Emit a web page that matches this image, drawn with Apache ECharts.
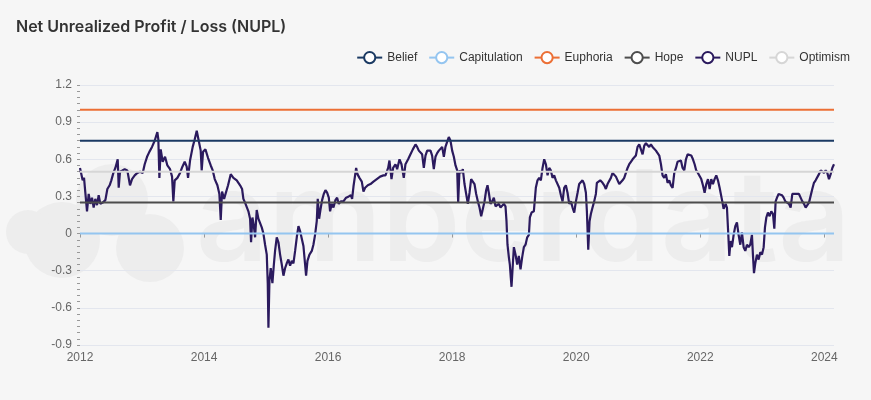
<!DOCTYPE html>
<html>
<head>
<meta charset="utf-8">
<script src="https://cdn.jsdelivr.net/npm/echarts@6/dist/echarts.min.js"></script>
<style>
  html, body { margin: 0; padding: 0; background: #f6f6f6; }
  #chart { width: 871px; height: 400px; }
</style>
</head>
<body>
<div id="chart"></div>
<script>
// NUPL readings, x in decimal years
const years = [
  2012.000, 2012.022, 2012.043, 2012.065, 2012.086, 2012.113, 2012.140, 2012.167, 2012.194, 2012.220,
  2012.247, 2012.274, 2012.301, 2012.328, 2012.366, 2012.409, 2012.441, 2012.478, 2012.505, 2012.538,
  2012.570, 2012.608, 2012.624, 2012.645, 2012.683, 2012.720, 2012.763, 2012.806, 2012.839, 2012.882,
  2012.925, 2012.968, 2013.011, 2013.043, 2013.081, 2013.118, 2013.161, 2013.204, 2013.247, 2013.263,
  2013.280, 2013.301, 2013.333, 2013.371, 2013.409, 2013.452, 2013.484, 2013.505, 2013.527, 2013.570,
  2013.613, 2013.651, 2013.688, 2013.720, 2013.742, 2013.774, 2013.817, 2013.849, 2013.882, 2013.914,
  2013.946, 2013.962, 2013.984, 2014.022, 2014.065, 2014.108, 2014.140, 2014.172, 2014.215, 2014.247,
  2014.269, 2014.290, 2014.323, 2014.355, 2014.387, 2014.430,
  2014.473, 2014.527, 2014.581, 2014.613, 2014.634, 2014.661, 2014.688, 2014.715, 2014.742, 2014.758,
  2014.780, 2014.801, 2014.823, 2014.849, 2014.876, 2014.903, 2014.930, 2014.957, 2014.984, 2015.011,
  2015.027, 2015.038, 2015.054, 2015.075, 2015.102, 2015.124, 2015.145, 2015.172, 2015.199, 2015.226,
  2015.253, 2015.280, 2015.306, 2015.333, 2015.360, 2015.387, 2015.414, 2015.441, 2015.468, 2015.495,
  2015.522, 2015.548, 2015.575, 2015.602, 2015.629, 2015.645, 2015.667, 2015.699, 2015.737, 2015.763,
  2015.790, 2015.817, 2015.833, 2015.855, 2015.876, 2015.903, 2015.930, 2015.957, 2015.984, 2016.011,
  2016.032, 2016.059, 2016.086, 2016.118, 2016.145, 2016.172, 2016.204, 2016.247, 2016.290, 2016.333,
  2016.366, 2016.387, 2016.409, 2016.435, 2016.452, 2016.473, 2016.505, 2016.543, 2016.570, 2016.597,
  2016.640, 2016.683, 2016.731, 2016.785, 2016.839, 2016.892,
  2016.925, 2016.968, 2016.989, 2017.022, 2017.048, 2017.086, 2017.113, 2017.151, 2017.183, 2017.220,
  2017.247, 2017.290, 2017.328, 2017.366, 2017.409, 2017.435, 2017.462, 2017.489, 2017.516, 2017.543,
  2017.570, 2017.597, 2017.624, 2017.651, 2017.677, 2017.704, 2017.731, 2017.758, 2017.785, 2017.812,
  2017.839, 2017.866, 2017.892, 2017.919, 2017.946, 2017.973, 2018.000, 2018.027, 2018.054, 2018.081,
  2018.097, 2018.118, 2018.145, 2018.172, 2018.199, 2018.226, 2018.253, 2018.280, 2018.306, 2018.333,
  2018.360, 2018.387, 2018.414, 2018.441, 2018.468, 2018.495, 2018.522, 2018.548, 2018.570, 2018.591,
  2018.618, 2018.645, 2018.672, 2018.699, 2018.726, 2018.753, 2018.780, 2018.806, 2018.833, 2018.860,
  2018.876, 2018.892, 2018.914, 2018.930, 2018.946, 2018.957, 2018.978, 2018.995, 2019.022, 2019.048,
  2019.075, 2019.102, 2019.129, 2019.156, 2019.183, 2019.210, 2019.237, 2019.253, 2019.280, 2019.317,
  2019.349, 2019.376, 2019.403, 2019.430, 2019.457, 2019.484, 2019.511, 2019.538, 2019.565, 2019.591,
  2019.618, 2019.645, 2019.672, 2019.699, 2019.726, 2019.753, 2019.780, 2019.806, 2019.833, 2019.860,
  2019.887, 2019.914, 2019.941, 2019.968, 2019.995, 2020.022, 2020.048, 2020.075, 2020.102, 2020.129,
  2020.156, 2020.172, 2020.194, 2020.215, 2020.237, 2020.263, 2020.290, 2020.317, 2020.333, 2020.355,
  2020.387, 2020.425, 2020.452, 2020.478, 2020.505, 2020.532, 2020.559, 2020.586, 2020.613, 2020.640,
  2020.667, 2020.694, 2020.720, 2020.747, 2020.774, 2020.801, 2020.828, 2020.855, 2020.882, 2020.909,
  2020.935, 2020.962, 2020.989, 2021.016, 2021.043, 2021.070, 2021.097, 2021.124, 2021.151, 2021.177,
  2021.204, 2021.231, 2021.258, 2021.285, 2021.312, 2021.339, 2021.366, 2021.392, 2021.419, 2021.446,
  2021.473, 2021.500, 2021.527, 2021.554, 2021.581, 2021.608, 2021.634, 2021.661, 2021.688, 2021.715,
  2021.742, 2021.769, 2021.796,
  2021.828, 2021.855, 2021.882, 2021.909, 2021.935, 2021.962, 2021.989, 2022.016, 2022.043, 2022.070,
  2022.097, 2022.124, 2022.151, 2022.177, 2022.204, 2022.231, 2022.258, 2022.285, 2022.312, 2022.339,
  2022.355, 2022.376, 2022.409, 2022.430, 2022.452, 2022.468, 2022.489, 2022.511, 2022.538, 2022.565,
  2022.591, 2022.618, 2022.645, 2022.672, 2022.699, 2022.726, 2022.753, 2022.780, 2022.806, 2022.833,
  2022.849, 2022.866, 2022.887, 2022.914, 2022.941, 2022.968, 2022.995, 2023.022, 2023.043, 2023.065,
  2023.091, 2023.118, 2023.145, 2023.172, 2023.194, 2023.215, 2023.237, 2023.263, 2023.290, 2023.317,
  2023.344, 2023.371, 2023.398, 2023.430, 2023.457, 2023.484, 2023.511, 2023.538, 2023.565, 2023.591,
  2023.618, 2023.645, 2023.672, 2023.699, 2023.726, 2023.753, 2023.780, 2023.806, 2023.833, 2023.860,
  2023.887, 2023.914, 2023.941, 2023.968, 2023.995, 2024.022, 2024.048, 2024.075, 2024.102, 2024.129,
  2024.156
];
const nupl = [
  0.53, 0.52, 0.43, 0.45, 0.33, 0.18, 0.32, 0.24, 0.29, 0.21,
  0.28, 0.23, 0.31, 0.24, 0.25, 0.27, 0.36, 0.39, 0.43, 0.49,
  0.53, 0.60, 0.37, 0.50, 0.51, 0.52, 0.51, 0.39, 0.44, 0.47,
  0.49, 0.50, 0.49, 0.56, 0.62, 0.66, 0.70, 0.75, 0.82, 0.76,
  0.45, 0.68, 0.58, 0.62, 0.55, 0.52, 0.46, 0.26, 0.43, 0.45,
  0.49, 0.54, 0.58, 0.54, 0.45, 0.59, 0.70, 0.76, 0.83, 0.75,
  0.67, 0.51, 0.66, 0.68, 0.61, 0.55, 0.51, 0.44, 0.39, 0.32,
  0.11, 0.34, 0.28, 0.29, 0.39, 0.48,
  0.45, 0.43, 0.39, 0.36, 0.28, 0.25, 0.26, 0.18, 0.12, -0.07,
  0.13, 0.07, -0.03, 0.19, 0.12, 0.13, 0.05, 0.00, -0.09, -0.17,
  -0.40, -0.76, -0.38, -0.28, -0.40, -0.26, -0.14, -0.03, -0.07, -0.17,
  -0.25, -0.34, -0.28, -0.24, -0.21, -0.26, -0.22, -0.24, -0.14, -0.03,
  0.06, 0.02, -0.04, -0.10, -0.25, -0.34, -0.22, -0.17, -0.14, -0.09,
  -0.01, 0.10, 0.28, 0.12, 0.19, 0.27, 0.32, 0.35, 0.33, 0.29,
  0.18, 0.24, 0.21, 0.27, 0.29, 0.24, 0.26, 0.26, 0.29, 0.30,
  0.31, 0.28, 0.38, 0.47, 0.53, 0.48, 0.45, 0.42, 0.34, 0.37,
  0.39, 0.40, 0.42, 0.44, 0.46, 0.47,
  0.47, 0.53, 0.59, 0.44, 0.53, 0.56, 0.52, 0.60, 0.56, 0.45,
  0.56, 0.60, 0.64, 0.68, 0.72, 0.70, 0.67, 0.68, 0.64, 0.53,
  0.63, 0.67, 0.68, 0.67, 0.63, 0.52, 0.62, 0.65, 0.67, 0.66,
  0.70, 0.62, 0.70, 0.74, 0.78, 0.75, 0.67, 0.62, 0.55, 0.51,
  0.25, 0.51, 0.49, 0.52, 0.40, 0.32, 0.24, 0.33, 0.44, 0.45,
  0.40, 0.32, 0.26, 0.21, 0.14, 0.20, 0.26, 0.35, 0.39, 0.33,
  0.24, 0.26, 0.29, 0.22, 0.21, 0.24, 0.21, 0.22, 0.24, 0.22,
  0.10, -0.09, -0.19, -0.25, -0.36, -0.43, -0.25, -0.11, -0.17, -0.25,
  -0.18, -0.29, -0.19, -0.11, -0.09, -0.03, -0.01, 0.13, 0.17, 0.18,
  0.37, 0.43, 0.45, 0.43, 0.53, 0.60, 0.56, 0.47, 0.53, 0.51,
  0.45, 0.47, 0.43, 0.44, 0.37, 0.31, 0.26, 0.37, 0.39, 0.33,
  0.24, 0.26, 0.21, 0.17, 0.26, 0.33, 0.40, 0.41, 0.43, 0.40,
  0.33, 0.18, -0.13, 0.10, 0.16, 0.21, 0.26, 0.32, 0.41, 0.40,
  0.43, 0.41, 0.39, 0.36, 0.40, 0.41, 0.45, 0.49, 0.48, 0.46,
  0.43, 0.40, 0.41, 0.43, 0.45, 0.49, 0.53, 0.56, 0.58, 0.60,
  0.59, 0.63, 0.70, 0.72, 0.68, 0.64, 0.71, 0.73, 0.74, 0.70,
  0.72, 0.70, 0.71, 0.67, 0.66, 0.63, 0.56, 0.47, 0.45, 0.48,
  0.41, 0.43, 0.39, 0.37, 0.49, 0.53, 0.58, 0.58, 0.59, 0.53,
  0.51, 0.60, 0.64,
  0.65, 0.63, 0.60, 0.56, 0.51, 0.49, 0.49, 0.44, 0.39, 0.33,
  0.40, 0.44, 0.36, 0.44, 0.40, 0.44, 0.47, 0.43, 0.37, 0.36,
  0.26, 0.20, 0.24, 0.21, -0.01, -0.18, -0.06, -0.11, -0.01, 0.06,
  0.09, -0.01, -0.09, 0.01, -0.11, -0.14, -0.09, -0.11, -0.09, -0.01,
  -0.17, -0.32, -0.24, -0.17, -0.21, -0.15, -0.17, -0.11, 0.05, 0.13,
  0.17, 0.14, 0.18, 0.16, 0.04, 0.26, 0.29, 0.32, 0.33, 0.31,
  0.29, 0.26, 0.25, 0.24, 0.21, 0.32, 0.33, 0.32, 0.31, 0.32,
  0.29, 0.26, 0.24, 0.21, 0.22, 0.25, 0.26, 0.36, 0.41, 0.43,
  0.44, 0.48, 0.51, 0.51, 0.49, 0.51, 0.49, 0.44, 0.48, 0.53,
  0.56
];

// reference levels
const levelNames = ['Belief', 'Capitulation', 'Euphoria', 'Hope', 'Optimism'];
const levelValues = [0.75, 0, 1, 0.25, 0.5];
const levelColors = ['#1b3a63', '#94c5f0', '#ec6f35', '#4d4d4d', '#d6d6d6'];

const legendOrder = ['Belief', 'Capitulation', 'Euphoria', 'Hope', 'NUPL', 'Optimism'];
const xTicks = [2012, 2014, 2016, 2018, 2020, 2022, 2024];

const xStart = years[0];
const xEnd = years[years.length - 1];

var series = [{
  name: 'NUPL',
  type: 'line',
  data: years.map((y, i) => [y, nupl[i]]),
  symbol: 'emptyCircle',
  symbolSize: 10,
  showSymbol: false,
  color: '#2b1a5e',
  lineStyle: { width: 2.2 },
  z: 2
}]
levelNames.forEach((name, i) => {
  series.push({
    name: name,
    type: 'line',
    data: [[xStart, levelValues[i]], [xEnd, levelValues[i]]],
    symbol: 'emptyCircle',
    symbolSize: 10,
    showSymbol: false,
    color: levelColors[i],
    lineStyle: { width: 2 },
    silent: true,
    z: 3
  })
})

var myChart = echarts.init(document.getElementById('chart'))
myChart.setOption({
  backgroundColor: '#f6f6f6',
  animation: false,
  textStyle: { fontFamily: 'Liberation Sans, Arial, sans-serif' },
  title: {
    text: 'Net Unrealized Profit / Loss (NUPL)',
    left: 11,
    top: 14,
    textStyle: { fontFamily: 'Inter', fontSize: 16, fontWeight: 600, color: '#333' }
  },
  legend: {
    data: legendOrder,
    right: 16,
    top: 46,
    itemWidth: 25,
    itemHeight: 14,
    itemGap: 11,
    itemStyle: { borderWidth: 2 },
    lineStyle: { width: 2 },
    textStyle: { color: '#333', fontSize: 12 }
  },
  graphic: [
    // faint watermark
    { type: 'circle', z: -10, shape: { cx: 62, cy: 240, r: 38 }, style: { fill: '#ededed' } },
    { type: 'circle', z: -10, shape: { cx: 112, cy: 200, r: 36 }, style: { fill: '#ededed' } },
    { type: 'circle', z: -10, shape: { cx: 150, cy: 248, r: 34 }, style: { fill: '#ededed' } },
    { type: 'circle', z: -10, shape: { cx: 28, cy: 232, r: 22 }, style: { fill: '#ededed' } },
    {
      type: 'text', z: -10, left: 196, top: 160,
      style: { text: 'amberdata', fill: '#ededed', font: '600 126px Inter' }
    }
  ],
  grid: { left: 80, right: 37, top: 85, bottom: 55, outerBoundsMode: 'none' },
  xAxis: [{
    type: 'value',
    position: 'bottom',
    min: xStart,
    max: xEnd,
    axisLine: { show: false, onZero: false },
    axisTick: { show: false },
    splitLine: { show: false },
    axisLabel: {
      customValues: xTicks,
      color: '#666',
      fontSize: 12,
      margin: 7,
      formatter: v => String(v)
    }
  }, {
    // ticks sitting on the zero line
    type: 'value',
    position: 'top',
    min: xStart,
    max: xEnd,
    axisLine: { show: false, onZero: true },
    axisTick: { show: true, inside: true, customValues: xTicks, length: 4, lineStyle: { color: '#999' } },
    axisLabel: { show: false },
    splitLine: { show: false }
  }],
  yAxis: {
    type: 'value',
    min: -0.9,
    max: 1.2,
    interval: 0.3,
    axisLine: { show: false },
    axisTick: { show: true, length: 3, lineStyle: { color: '#999' } },
    minorTick: { show: true, splitNumber: 6, length: 3, lineStyle: { color: '#999' } },
    splitLine: { lineStyle: { color: '#e3e6ee' } },
    axisLabel: {
      color: '#666',
      fontSize: 12,
      margin: 8,
      formatter: v => String(Math.round(v * 10) / 10)
    }
  },
  series: series
})
</script>
</body>
</html>
